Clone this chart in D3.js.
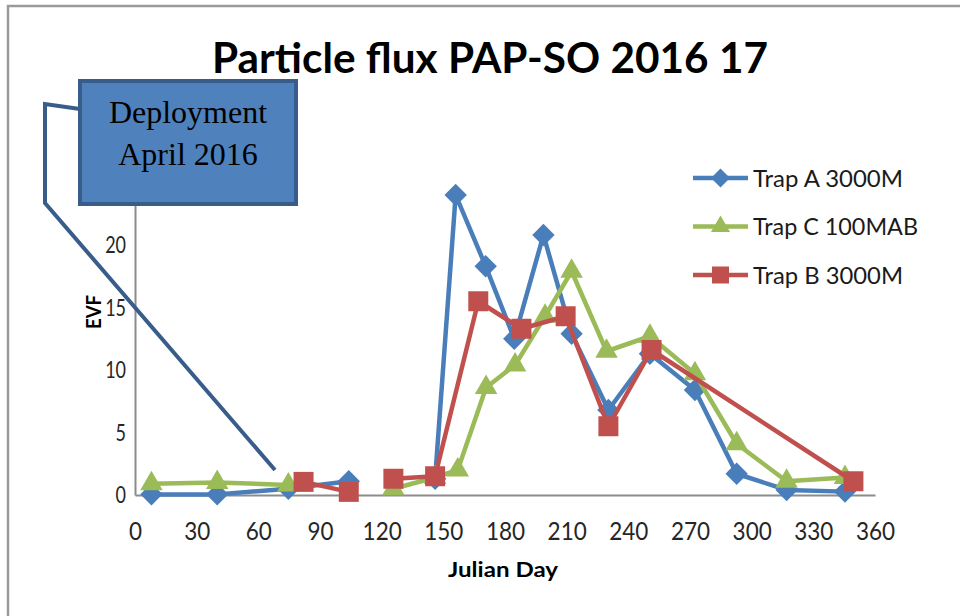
<!DOCTYPE html>
<html>
<head>
<meta charset="utf-8">
<script src="https://cdn.jsdelivr.net/npm/d3@7"></script>
<style>
  html, body { margin: 0; padding: 0; background: #ffffff; }
  svg { display: block; }
</style>
</head>
<body>
<svg id="chart" width="960" height="616"></svg>
<script>
// Julian day of each sample and the EVF value measured; null marks a break in the series
const trapADays   = [8, 40, 74.6, 104, null, 146, 156, 170.6, 184.5, 198.7, 212.4, 230.3, 250.5, 272.4, 292.7, 317, 345.4];
const trapAValues = [0.05, 0.05, 0.5, 1.1, null, 1.3, 24.0, 18.3, 12.5, 20.8, 12.9, 6.8, 11.3, 8.4, 1.7, 0.4, 0.27];

const trapCDays   = [8, 40, 74.6, null, 125.7, 146, 157, 170.8, 184.9, 199.5, 212.4, 229.4, 250.5, 272.4, 292.7, 317, 345.4];
const trapCValues = [0.9, 1.0, 0.8, null, 0.5, 1.4, 2.0, 8.6, 10.4, 14.3, 17.9, 11.5, 12.7, 9.7, 4.1, 1.1, 1.4];

const trapBDays   = [82, 104, null, 125.7, 146, 167, 188, 209.5, 230.3, 251.3, 349.5];
const trapBValues = [1.05, 0.25, null, 1.3, 1.5, 15.5, 13.3, 14.3, 5.5, 11.6, 1.1];

const seriesNames = ["Trap A 3000M", "Trap C 100MAB", "Trap B 3000M"];
const xTicks = [0, 30, 60, 90, 120, 150, 180, 210, 240, 270, 300, 330, 360];
const yTicks = [0, 5, 10, 15, 20, 25];

const titleText = "Particle flux PAP-SO 2016 17";
const xTitle = "Julian Day";
const yTitle = "EVF";
const calloutLines = ["Deployment", "April 2016"];

const colors = { A: "#4a7ebb", C: "#9bbb59", B: "#c0504d" };
const sans = "Lato, 'Open Sans', sans-serif";

const svg = d3.select("#chart");

const x = d3.scaleLinear().domain([0, 360]).range([135, 875]);
const y = d3.scaleLinear().domain([0, 25]).range([495, 182.5]);

// outer chart frame
svg.append("rect")
  .attr("x", 8).attr("y", 6).attr("width", 1000).attr("height", 700)
  .attr("fill", "none").attr("stroke", "#9a9a9a").attr("stroke-width", 2.5);

// title
svg.append("text")
  .attr("x", 212).attr("y", 73)
  .attr("font-family", sans).attr("font-weight", 700).attr("font-size", 42)
  .attr("textLength", 556).attr("lengthAdjust", "spacingAndGlyphs")
  .attr("fill", "#000").text(titleText);

// axes
const xAxis = svg.append("g").attr("transform", `translate(0,${y(0)})`)
  .call(d3.axisBottom(x).tickValues(xTicks).tickSize(0).tickPadding(27).tickSizeOuter(0));
const yAxis = svg.append("g").attr("transform", `translate(${x(0)},0)`)
  .call(d3.axisLeft(y).tickValues(yTicks).tickSize(0).tickPadding(9).tickSizeOuter(0));

[xAxis, yAxis].forEach(g => {
  g.select(".domain").attr("stroke", "#8c8c8c").attr("stroke-width", 2);
  g.selectAll("text")
    .attr("font-family", sans).attr("font-size", 25).attr("fill", "#262626");
});
xAxis.selectAll("text").attr("transform", "scale(0.9,1)");
yAxis.selectAll("text").attr("font-size", 24).attr("x", -12).attr("transform", "scale(0.75,1)");

// axis titles
svg.append("text")
  .attr("x", 503).attr("y", 577).attr("text-anchor", "middle")
  .attr("font-family", sans).attr("font-weight", 700).attr("font-size", 21)
  .attr("textLength", 110).attr("lengthAdjust", "spacingAndGlyphs")
  .text(xTitle);
svg.append("text")
  .attr("transform", "translate(101,312) rotate(-90)")
  .attr("text-anchor", "middle")
  .attr("font-family", sans).attr("font-weight", 700).attr("font-size", 20)
  .attr("textLength", 34).attr("lengthAdjust", "spacingAndGlyphs")
  .text(yTitle);

// series
const toPoints = (days, vals) => days.map((d, i) => ({ day: d, v: vals[i] }));
const series = [
  { key: "A", name: seriesNames[0], pts: toPoints(trapADays, trapAValues), shape: "diamond" },
  { key: "C", name: seriesNames[1], pts: toPoints(trapCDays, trapCValues), shape: "triangle" },
  { key: "B", name: seriesNames[2], pts: toPoints(trapBDays, trapBValues), shape: "square" }
];

const line = d3.line()
  .defined(d => d.v !== null && d.day !== null)
  .x(d => x(d.day)).y(d => y(d.v));

function markerPath(shape, scale) {
  if (shape === "diamond") return d3.symbol(d3.symbolSquare, 250 * scale * scale)();
  if (shape === "triangle") return d3.symbol(d3.symbolTriangle, 220 * scale * scale)();
  return d3.symbol(d3.symbolSquare, 400 * scale * scale)();
}
function markerTransform(shape, cx, cy) {
  return shape === "diamond" ? `translate(${cx},${cy}) rotate(45)` : `translate(${cx},${cy})`;
}

series.forEach(s => {
  const g = svg.append("g");
  g.append("path").datum(s.pts)
    .attr("d", line).attr("fill", "none")
    .attr("stroke", colors[s.key]).attr("stroke-width", 4.5)
    .attr("stroke-linejoin", "round");
  g.selectAll("path.mk").data(s.pts.filter(d => d.v !== null)).join("path")
    .attr("class", "mk")
    .attr("d", markerPath(s.shape, 1))
    .attr("transform", d => markerTransform(s.shape, x(d.day), y(d.v)))
    .attr("fill", colors[s.key]);
});

// legend
const legendY = d3.scalePoint().domain(seriesNames).range([178, 275]);
const legendWidths = [150, 165, 150];
series.forEach((s, i) => {
  const ly = legendY(s.name);
  const g = svg.append("g");
  g.append("line").attr("x1", 693).attr("x2", 748).attr("y1", ly).attr("y2", ly)
    .attr("stroke", colors[s.key]).attr("stroke-width", 4.5);
  g.append("path").attr("d", markerPath(s.shape, 0.85))
    .attr("transform", markerTransform(s.shape, 720.5, ly)).attr("fill", colors[s.key]);
  g.append("text").attr("x", 753).attr("y", ly + 8.5)
    .attr("font-family", sans).attr("font-size", 23).attr("fill", "#1a1a1a")
    .attr("textLength", legendWidths[i]).attr("lengthAdjust", "spacingAndGlyphs")
    .text(s.name);
});

// deployment callout with its leader line
svg.append("polyline")
  .attr("points", "80,109 45,104 45,203 275,470")
  .attr("fill", "none").attr("stroke", "#385d8a").attr("stroke-width", 4)
  .attr("stroke-linejoin", "miter");
svg.append("rect")
  .attr("x", 80).attr("y", 81).attr("width", 216).attr("height", 123)
  .attr("fill", "#4f81bd").attr("stroke", "#385d8a").attr("stroke-width", 4);
svg.selectAll("text.callout").data(calloutLines).join("text")
  .attr("class", "callout")
  .attr("x", 188).attr("y", (d, i) => 123 + i * 42)
  .attr("text-anchor", "middle")
  .attr("font-family", "'Liberation Serif', 'Times New Roman', serif")
  .attr("font-size", 32).attr("fill", "#000")
  .text(d => d);
</script>
</body>
</html>
